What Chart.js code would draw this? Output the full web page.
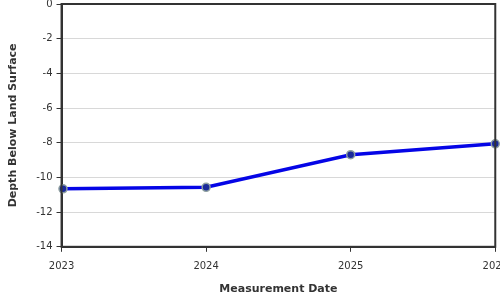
<!DOCTYPE html>
<html>
<head>
<meta charset="utf-8">
<script src="https://cdn.jsdelivr.net/npm/chart.js@4"></script>
<style>
html,body{margin:0;padding:0;overflow:hidden;background:#fff;width:500px;height:300px;}
#c{display:block;margin-top:-6px;}
</style>
</head>
<body>
<canvas id="c" width="517" height="306"></canvas>
<script>
const measurementYears = [2023.01, 2024.0, 2025.0, 2026.0];
const depthValues = [-10.66, -10.57, -8.69, -8.06];
const xTickYears = [2023, 2024, 2025, 2026];
const yTicks = [0, -2, -4, -6, -8, -10, -12, -14];

const frame = {
  id: 'frame',
  afterDatasetsDraw(chart) {
    const {ctx, chartArea: a} = chart;
    ctx.save();
    ctx.strokeStyle = '#333';
    ctx.lineWidth = 2;
    ctx.strokeRect(a.left, a.top, a.right - a.left, a.bottom - a.top);
    ctx.restore();
  }
};

new Chart(document.getElementById('c'), {
  type: 'line',
  data: {
    datasets: [{
      data: measurementYears.map((x, i) => ({x, y: depthValues[i]})),
      borderColor: '#0505e6',
      borderWidth: 3.5,
      pointRadius: 4,
      pointBackgroundColor: '#1a2a9a',
      pointBorderColor: '#8fa0a0',
      pointBorderWidth: 1.5,
      tension: 0,
      clip: false
    }]
  },
  options: {
    responsive: false,
    animation: false,
    devicePixelRatio: 1,
    layout: {padding: {top: 0, left: 7}},
    plugins: {legend: {display: false}, tooltip: {enabled: false}},
    scales: {
      x: {
        type: 'linear',
        min: 2023, max: 2026,
        afterBuildTicks(s) { s.ticks = xTickYears.map(v => ({value: v})); },
        ticks: {
          callback: v => String(v),
          color: '#333', font: {family: 'DejaVu Sans', size: 10}, maxRotation: 0, padding: 9
        },
        grid: {display: true, drawOnChartArea: false, drawTicks: true, tickLength: 5, color: '#333'},
        border: {display: true, color: '#333', width: 2},
        title: {display: true, text: 'Measurement Date', color: '#333', font: {family: 'DejaVu Sans', size: 11, weight: 'bold'}, padding: {top: 1, bottom: 4}}
      },
      y: {
        min: -14, max: 0,
        afterBuildTicks(s) { s.ticks = yTicks.map(v => ({value: v})); },
        ticks: {color: '#333', font: {family: 'DejaVu Sans', size: 10}, padding: 4},
        grid: {color: '#d8d8d8', tickColor: '#333', tickLength: 5, lineWidth: 1},
        border: {display: true, color: '#333', width: 2},
        title: {display: true, text: 'Depth Below Land Surface', color: '#333', font: {family: 'DejaVu Sans', size: 11, weight: 'bold'}, padding: {top: 0, bottom: 12}}
      }
    }
  },
  plugins: [frame]
});
</script>
</body>
</html>
